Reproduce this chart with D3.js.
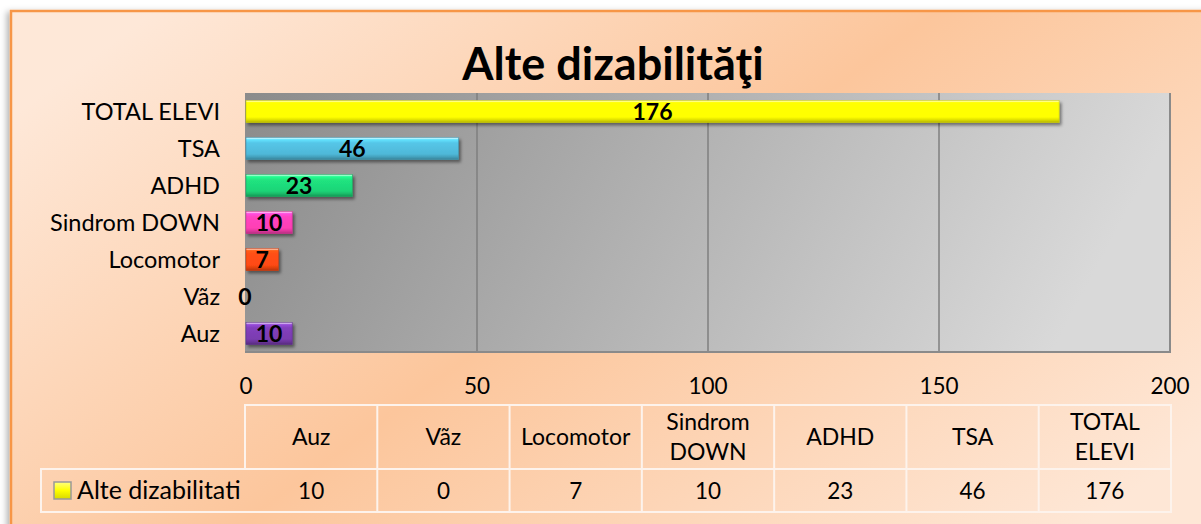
<!DOCTYPE html>
<html>
<head>
<meta charset="utf-8">
<script src="https://cdn.jsdelivr.net/npm/d3@7"></script>
<style>
  body { margin: 0; background: #fff; }
  svg { display: block; font-family: Lato, "Open Sans", sans-serif; }
</style>
</head>
<body>
<div id="chart"></div>
<script>
// chart data
const categories = ['Auz', 'Vãz', 'Locomotor', 'Sindrom DOWN', 'ADHD', 'TSA', 'TOTAL ELEVI'];
const values = [10, 0, 7, 10, 23, 46, 176];
const barColors = ['#7a3cb0', '#888888', '#ff4a12', '#ff3fb4', '#1ed477', '#4fb8d8', '#ffff00'];
const xTicks = [0, 50, 100, 150, 200];
const seriesName = 'Alte dizabilitati';
const title = 'Alte dizabilităţi';

const width = 1201;
const height = 524;
const plot = { left: 246, right: 1170, top: 93, bottom: 352 };
const table = { left: 41, top: 405, mid: 469, bottom: 512 };

const data = categories.map((c, i) => ({ cat: c, value: values[i], color: barColors[i] }));

const svg = d3.select('#chart')
  .append('svg')
  .attr('width', width)
  .attr('height', height);

const defs = svg.append('defs');

// background gradient
const bg = defs.append('linearGradient').attr('id', 'bg')
  .attr('x1', '0%').attr('y1', '20%').attr('x2', '100%').attr('y2', '80%');
bg.append('stop').attr('offset', '0%').attr('stop-color', '#fee8d8');
bg.append('stop').attr('offset', '48%').attr('stop-color', '#fcc69c');
bg.append('stop').attr('offset', '100%').attr('stop-color', '#fee7d6');

const pg = defs.append('linearGradient').attr('id', 'plotbg')
  .attr('x1', '0%').attr('y1', '0%').attr('x2', '100%').attr('y2', '15%');
pg.append('stop').attr('offset', '0%').attr('stop-color', '#8b8b8b');
pg.append('stop').attr('offset', '100%').attr('stop-color', '#d9d9d9');

const shadow = defs.append('filter').attr('id', 'shadow')
  .attr('x', '-10%').attr('y', '-30%').attr('width', '130%').attr('height', '190%');
shadow.append('feDropShadow').attr('dx', 2).attr('dy', 2.5).attr('stdDeviation', 1.5)
  .attr('flood-color', '#000').attr('flood-opacity', 0.45);

const frameShadow = defs.append('filter').attr('id', 'frameShadow')
  .attr('x', '-5%').attr('y', '-5%').attr('width', '110%').attr('height', '110%');
frameShadow.append('feDropShadow').attr('dx', -3).attr('dy', 2).attr('stdDeviation', 3)
  .attr('flood-color', '#000').attr('flood-opacity', 0.3);

// per-bar bevel gradients
data.forEach((d, i) => {
  const g = defs.append('linearGradient').attr('id', 'bar' + i)
    .attr('x1', 0).attr('y1', 0).attr('x2', 0).attr('y2', 1);
  const c = d3.color(d.color);
  g.append('stop').attr('offset', '0%').attr('stop-color', '#ffffff');
  g.append('stop').attr('offset', '10%').attr('stop-color', c.brighter(0.6));
  g.append('stop').attr('offset', '25%').attr('stop-color', c.brighter(0.2));
  g.append('stop').attr('offset', '75%').attr('stop-color', c);
  g.append('stop').attr('offset', '88%').attr('stop-color', c.darker(0.4));
  g.append('stop').attr('offset', '100%').attr('stop-color', c.darker(1));
});

// outer frame
svg.append('rect')
  .attr('x', 11).attr('y', 11)
  .attr('width', 1200).attr('height', 530)
  .attr('fill', 'url(#bg)')
  .attr('stroke', '#f79646')
  .attr('stroke-width', 2.5)
  .attr('filter', 'url(#frameShadow)');

// title
svg.append('text')
  .attr('x', 613).attr('y', 80)
  .attr('text-anchor', 'middle')
  .attr('font-size', 45)
  .attr('font-weight', 'bold')
  .attr('fill', '#000')
  .text(title);

// scales
const xScale = d3.scaleLinear().domain([0, 200]).range([plot.left, plot.right]);
const yScale = d3.scaleBand()
  .domain(categories.slice().reverse())
  .range([plot.top, plot.bottom])
  .paddingInner(0.4)
  .paddingOuter(0.2);

// plot area
svg.append('rect')
  .attr('x', plot.left - 1).attr('y', plot.top)
  .attr('width', plot.right - plot.left + 1).attr('height', plot.bottom - plot.top)
  .attr('fill', 'url(#plotbg)');

// gridlines
svg.append('g')
  .selectAll('line')
  .data(xTicks.slice(1))
  .join('line')
  .attr('x1', (d) => xScale(d)).attr('x2', (d) => xScale(d))
  .attr('y1', plot.top).attr('y2', plot.bottom)
  .attr('stroke', '#7f7f7f')
  .attr('stroke-width', 1.5);

// right / bottom edge of plot
svg.append('path')
  .attr('d', `M${plot.right},${plot.top}V${plot.bottom}H${plot.left - 1}`)
  .attr('fill', 'none')
  .attr('stroke', '#8a8a8a')
  .attr('stroke-width', 2);

// bars
const bars = svg.append('g').attr('class', 'bars');
bars.selectAll('rect')
  .data(data.filter((d) => d.value > 0))
  .join('rect')
  .attr('x', xScale(0))
  .attr('y', (d) => yScale(d.cat))
  .attr('width', (d) => xScale(d.value) - xScale(0))
  .attr('height', yScale.bandwidth())
  .attr('fill', (d) => 'url(#bar' + categories.indexOf(d.cat) + ')')
  .attr('stroke', (d) => d3.color(d.color).darker(0.6))
  .attr('stroke-width', 0.6)
  .attr('filter', 'url(#shadow)');

// value labels
svg.append('g')
  .selectAll('text')
  .data(data)
  .join('text')
  .attr('x', (d) => d.value > 0 ? (xScale(0) + xScale(d.value)) / 2 : xScale(0) - 1)
  .attr('y', (d) => yScale(d.cat) + yScale.bandwidth() / 2 + 8)
  .attr('text-anchor', 'middle')
  .attr('font-size', 23)
  .attr('font-weight', 'bold')
  .attr('fill', '#000')
  .text((d) => d.value);

// category labels
svg.append('g')
  .selectAll('text')
  .data(categories)
  .join('text')
  .attr('x', 220)
  .attr('y', (d) => yScale(d) + yScale.bandwidth() / 2 + 8)
  .attr('text-anchor', 'end')
  .attr('font-size', 23.5)
  .attr('fill', '#000')
  .text((d) => d);

// x tick labels
svg.append('g')
  .selectAll('text')
  .data(xTicks)
  .join('text')
  .attr('x', (d) => xScale(d))
  .attr('y', 394)
  .attr('text-anchor', 'middle')
  .attr('font-size', 22.5)
  .attr('fill', '#000')
  .text((d) => d);

// data table
const colScale = d3.scaleBand().domain(categories).range([plot.left - 1, plot.right + 1]);
const tbl = svg.append('g').attr('class', 'table');
const lineStyle = (sel) => sel.attr('stroke', '#fdf3ec').attr('stroke-width', 2).attr('fill', 'none');

tbl.append('path')
  .attr('d', `M${table.left},${table.mid}H${plot.right + 1}V${table.bottom}H${table.left}Z`)
  .call(lineStyle);
tbl.append('path')
  .attr('d', `M${plot.left - 1},${table.mid}V${table.top}H${plot.right + 1}V${table.mid}`)
  .call(lineStyle);
tbl.selectAll('line.col')
  .data(categories.slice(1))
  .join('line')
  .attr('class', 'col')
  .attr('x1', (d) => colScale(d)).attr('x2', (d) => colScale(d))
  .attr('y1', table.top).attr('y2', table.bottom)
  .call(lineStyle);

// header cells
const headers = tbl.selectAll('text.head')
  .data(categories)
  .join('text')
  .attr('class', 'head')
  .attr('text-anchor', 'middle')
  .attr('font-size', 23)
  .attr('fill', '#000');

headers.each(function (d) {
  const parts = d.includes(' ') ? d.split(' ') : [d];
  const cx = colScale(d) + colScale.bandwidth() / 2;
  const cy = (table.top + table.mid) / 2;
  const lh = 30;
  const y0 = cy - (parts.length - 1) * lh / 2 + 8;
  d3.select(this).selectAll('tspan')
    .data(parts)
    .join('tspan')
    .attr('x', cx)
    .attr('y', (p, i) => y0 + i * lh)
    .text((p) => p);
});

// value cells
tbl.selectAll('text.val')
  .data(data)
  .join('text')
  .attr('class', 'val')
  .attr('x', (d) => colScale(d.cat) + colScale.bandwidth() / 2)
  .attr('y', (table.mid + table.bottom) / 2 + 8)
  .attr('text-anchor', 'middle')
  .attr('font-size', 22.5)
  .attr('fill', '#000')
  .text((d) => d.value);

// legend key + series name
const keyGrad = defs.append('linearGradient').attr('id', 'key')
  .attr('x1', 0).attr('y1', 0).attr('x2', 0).attr('y2', 1);
keyGrad.append('stop').attr('offset', '0%').attr('stop-color', '#ffff80');
keyGrad.append('stop').attr('offset', '50%').attr('stop-color', '#ffff00');
keyGrad.append('stop').attr('offset', '100%').attr('stop-color', '#d8d800');

tbl.append('rect')
  .attr('x', 54).attr('y', 482)
  .attr('width', 17).attr('height', 17)
  .attr('fill', 'url(#key)')
  .attr('stroke', '#999')
  .attr('stroke-width', 1.5);

tbl.append('text')
  .attr('x', 77)
  .attr('y', (table.mid + table.bottom) / 2 + 8)
  .attr('font-size', 25)
  .attr('fill', '#000')
  .text(seriesName);
</script>
</body>
</html>
